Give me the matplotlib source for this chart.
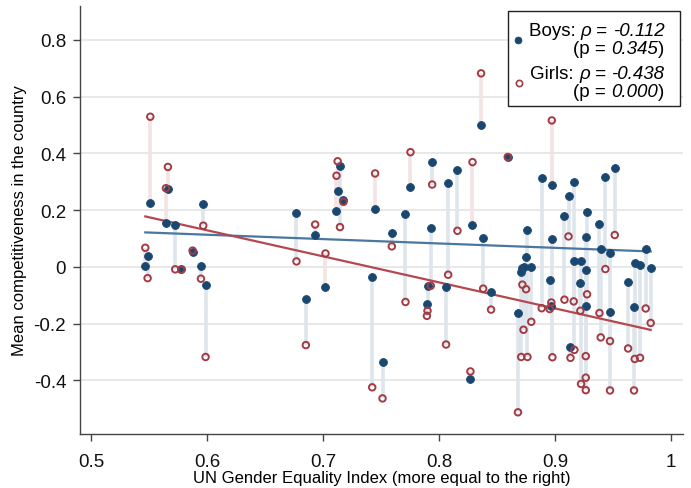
import numpy as np
import matplotlib
matplotlib.use("Agg")
import matplotlib.pyplot as plt
from matplotlib.offsetbox import TextArea, HPacker, VPacker, DrawingArea, AnchoredOffsetbox
from matplotlib.lines import Line2D

plt.rcParams['font.family'] = ['Liberation Sans', 'DejaVu Sans']

# Country-level data: gender equality index and mean competitiveness by sex
gei = [0.5466, 0.5486, 0.5509, 0.5644, 0.5661, 0.5724, 0.5776, 0.5874, 0.5946, 0.5966,
       0.5986, 0.6770, 0.6851, 0.6931, 0.7020, 0.7115, 0.7125, 0.7145, 0.7175, 0.7423,
       0.7448, 0.7512, 0.7592, 0.7710, 0.7753, 0.7895, 0.7900, 0.7928, 0.7940, 0.8060,
       0.8078, 0.8158, 0.8270, 0.8288, 0.8362, 0.8380, 0.8448, 0.8592, 0.8680, 0.8708,
       0.8718, 0.8728, 0.8750, 0.8762, 0.8795, 0.8885, 0.8954, 0.8968, 0.8972, 0.8977,
       0.9081, 0.9116, 0.9133, 0.9161, 0.9167, 0.9218, 0.9224, 0.9265, 0.9265, 0.9265,
       0.9276, 0.9383, 0.9394, 0.9434, 0.9474, 0.9474, 0.9515, 0.9630, 0.9681, 0.9687,
       0.9733, 0.9782, 0.9825]
boys = [0.004, 0.039, 0.226, 0.155, 0.273, 0.149, -0.008, 0.051, 0.003, 0.223,
        -0.063, 0.190, -0.115, 0.111, -0.073, 0.196, 0.268, 0.354, 0.236, -0.037,
        0.203, -0.335, 0.120, 0.185, 0.280, -0.131, -0.067, 0.136, 0.368, -0.071,
        0.294, 0.342, -0.396, 0.149, 0.499, 0.101, -0.089, 0.387, -0.164, -0.020,
        -0.006, 0.000, 0.033, 0.130, 0.001, 0.312, -0.047, -0.137, 0.288, 0.098,
        0.180, 0.250, -0.283, 0.300, 0.021, -0.057, 0.019, 0.105, -0.013, -0.140,
        0.192, 0.150, 0.062, 0.315, 0.047, -0.161, 0.348, -0.055, -0.142, 0.015,
        0.008, 0.062, -0.005]
girls = [0.067, -0.040, 0.529, 0.277, 0.352, -0.009, -0.010, 0.057, -0.042, 0.145,
         -0.318, 0.019, -0.276, 0.149, 0.047, 0.321, 0.372, 0.140, 0.229, -0.425,
         0.329, -0.464, 0.072, -0.124, 0.404, -0.173, -0.155, -0.067, 0.290, -0.274,
         -0.028, 0.127, -0.369, 0.369, 0.682, -0.077, -0.151, 0.387, -0.513, -0.318,
         -0.063, -0.222, -0.079, -0.318, -0.194, -0.146, -0.149, -0.126, 0.516, -0.319,
         -0.116, 0.107, -0.321, -0.122, -0.293, -0.155, -0.413, -0.391, -0.435, -0.315,
         -0.097, -0.163, -0.249, -0.008, -0.262, -0.436, 0.112, -0.288, -0.436, -0.325,
         -0.321, -0.147, -0.198]

x_ticks = [0.5, 0.6, 0.7, 0.8, 0.9, 1.0]
x_tick_labels = ["0.5", "0.6", "0.7", "0.8", "0.9", "1"]
y_ticks = [-0.4, -0.2, 0.0, 0.2, 0.4, 0.6, 0.8]
y_tick_labels = ["-0.4", "-0.2", "0", "0.2", "0.4", "0.6", "0.8"]

boys_label = ("Boys: ", "\u03c1", " = ", "-0.112", "(p = ", "0.345", ")")
girls_label = ("Girls: ", "\u03c1", " = ", "-0.438", "(p = ", "0.000", ")")

NAVY = "#1a476f"
MAROON = "#a23c44"
BOY_LINE = "#4a76a0"
GIRL_LINE = "#b5484f"
GAP_BLUE = "#dfe5ec"
GAP_PINK = "#f4e3e4"

x = np.array(gei)
b = np.array(boys)
g = np.array(girls)

fig = plt.figure(figsize=(6.91, 4.89), dpi=100)
ax = fig.add_axes([0.1158, 0.1104, 0.8722, 0.8756])

# vertical connectors between boys and girls of the same country
for xi, bi, gi in zip(x, b, g):
    col = GAP_BLUE if bi >= gi else GAP_PINK
    ax.plot([xi, xi], [bi, gi], color=col, lw=2.6, solid_capstyle='butt', zorder=1)

# linear fits over the observed range
xs = np.array([x.min(), x.max()])
pb = np.polyfit(x, b, 1)
pg = np.polyfit(x, g, 1)
ax.plot(xs, np.polyval(pb, xs), color=BOY_LINE, lw=1.6, zorder=3)
ax.plot(xs, np.polyval(pg, xs), color=GIRL_LINE, lw=1.6, zorder=3)

ax.scatter(x, b, s=32, color=NAVY, edgecolors=NAVY, linewidths=0.6, zorder=4)
ax.scatter(x, g, s=22, facecolors='none', edgecolors=MAROON, linewidths=1.4, zorder=5)

ax.set_xlim(0.4903, 1.0101)
ax.set_ylim(-0.5896, 0.92)
ax.set_xticks(x_ticks, x_tick_labels)
ax.set_yticks(y_ticks, y_tick_labels)
ax.tick_params(axis='both', labelsize=13.5, length=5, width=1, color='#444444', labelcolor='#111111')
ax.tick_params(axis='x', pad=9)
ax.tick_params(axis='y', pad=5)
for yt in y_ticks:
    ax.axhline(yt, color='#e6e6e6', lw=1.3, zorder=0)
for side in ('top', 'right'):
    ax.spines[side].set_visible(False)
for side in ('left', 'bottom'):
    ax.spines[side].set_color('#444444')
    ax.spines[side].set_linewidth(1)

ax.set_xlabel("UN Gender Equality Index (more equal to the right)", fontsize=12, labelpad=0)
ax.set_ylabel("Mean competitiveness in the country", fontsize=12, labelpad=5)

# legend with mixed upright/italic text
FS = 13.5


def entry(parts, marker_face, marker_edge):
    l1 = HPacker(children=[TextArea(parts[0], textprops=dict(fontsize=FS)),
                           TextArea(parts[1], textprops=dict(fontsize=FS, style='italic')),
                           TextArea(parts[2], textprops=dict(fontsize=FS)),
                           TextArea(parts[3], textprops=dict(fontsize=FS, style='italic'))],
                 sep=0, pad=0, align='baseline')
    l2 = HPacker(children=[TextArea(parts[4], textprops=dict(fontsize=FS)),
                           TextArea(parts[5], textprops=dict(fontsize=FS, style='italic')),
                           TextArea(parts[6], textprops=dict(fontsize=FS))],
                 sep=0, pad=0, align='baseline')
    col = VPacker(children=[l1, l2], sep=0.8, pad=0, align='right')
    da = DrawingArea(10, 10, 0, 0)
    da.add_artist(Line2D([5], [5], marker='o', ms=5 if marker_face != 'none' else 4.5,
                         mfc=marker_face, mec=marker_edge, mew=1.2 if marker_face == 'none' else 0.5,
                         ls='none'))
    return HPacker(children=[da, col], sep=3, pad=0, align='center')


entries = VPacker(children=[entry(boys_label, NAVY, NAVY), entry(girls_label, 'none', MAROON)],
                  sep=5.5, pad=0, align='right')
box_core = VPacker(children=[DrawingArea(1, 7, 0, 0), entries, DrawingArea(1, 3, 0, 0)],
                   sep=0, pad=0, align='right')
box = HPacker(children=[DrawingArea(1, 2, 0, 0), box_core, DrawingArea(10, 2, 0, 0)],
              sep=0, pad=0, align='center')
anch = AnchoredOffsetbox(loc='upper right', child=box, pad=0.1, borderpad=0.0, frameon=True,
                         bbox_to_anchor=(0.995, 0.9876), bbox_transform=ax.transAxes)
anch.patch.set_edgecolor('#222222')
anch.patch.set_linewidth(1)
anch.patch.set_boxstyle('square', pad=0)
ax.add_artist(anch)

fig.savefig("out.png", dpi=100)
